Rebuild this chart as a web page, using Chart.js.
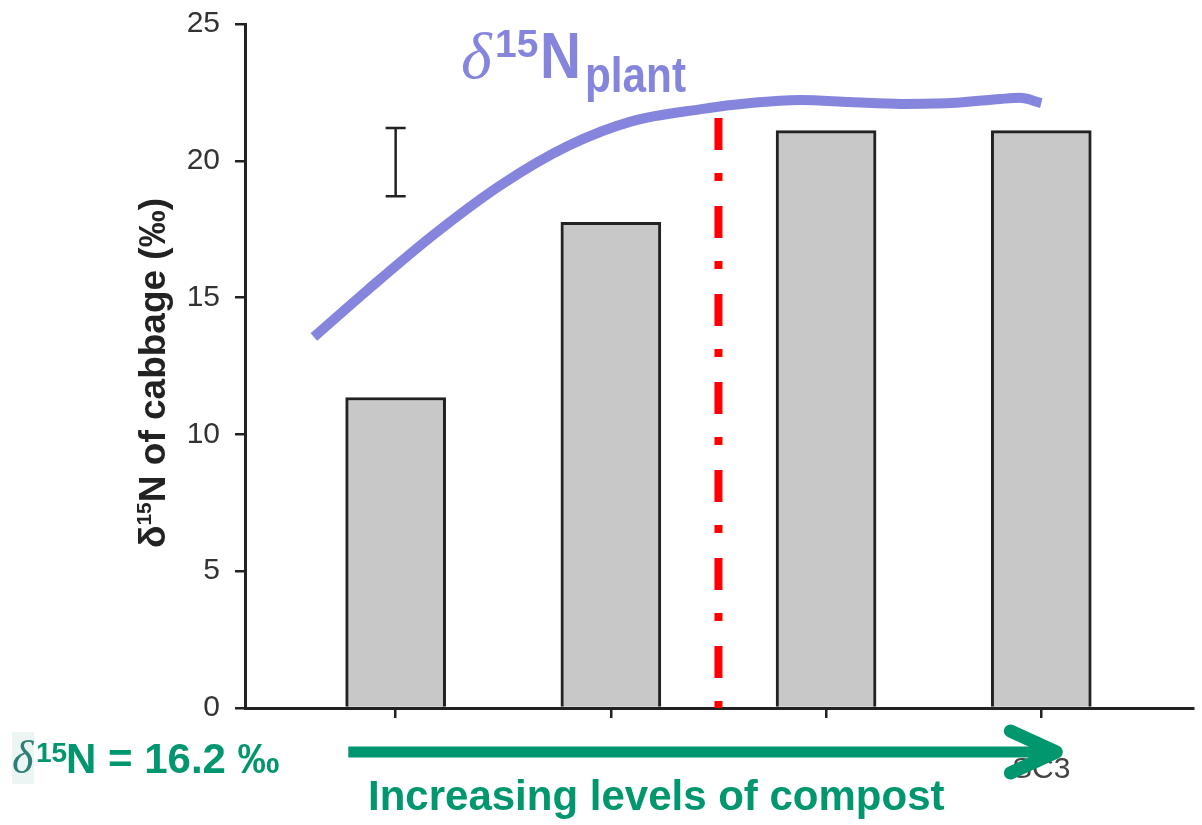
<!DOCTYPE html>
<html>
<head>
<meta charset="utf-8">
<title>δ15N of cabbage under increasing compost levels</title>
<script src="https://cdn.jsdelivr.net/npm/chart.js@4.4.1/dist/chart.umd.min.js"></script>
<style>
  html, body { margin: 0; padding: 0; background: #ffffff; }
  #wrap { width: 1202px; height: 825px; position: relative; }
  canvas { display: block; }
</style>
</head>
<body>
<div id="wrap"><canvas id="chart" width="1202" height="825"></canvas></div>
<script>
// Treatment positions on the x axis and their tick labels
const treatmentPos = [0, 1, 2, 3];
const xTickLabels = ['', '', '', 'SC3'];

// δ15N of cabbage (‰) for each compost level
const cabbageD15N = [11.35, 17.75, 21.1, 21.1];

// Y axis ticks
const yTicks = [0, 5, 10, 15, 20, 25];

// Least significant difference bar (drawn above the first treatment)
const lsdX = [0];
const lsdLow = [18.7];
const lsdHigh = [21.2];

// Sketched δ15N(plant) trend curve
const plantCurveX = [-0.38, -0.13, 0.18, 0.49, 0.8, 1.1, 1.42, 1.65, 1.88, 2.11, 2.35, 2.58, 2.81, 2.9, 3.0];
const plantCurveY = [13.56, 15.28, 17.32, 19.12, 20.54, 21.45, 21.89, 22.11, 22.22, 22.15, 22.08, 22.11, 22.26, 22.3, 22.11];

// Threshold marker between the second and third compost level
const thresholdX = [1.5, 1.5];
const thresholdY = [21.56, 0];

const GREEN = '#00966E';
const PURPLE = '#8585DD';
const AXIS = '#222222';

const xy = (xs, ys) => xs.map((x, i) => ({ x: x, y: ys[i] }));

// Error bar, y-axis title and annotation texts drawn on top of the chart
const decorations = {
  id: 'decorations',
  afterDatasetsDraw(chart) {
    const { ctx, scales: { x, y } } = chart;
    ctx.save();
    // LSD bar
    ctx.strokeStyle = AXIS;
    ctx.lineWidth = 2.5;
    lsdX.forEach((v, i) => {
      const px = x.getPixelForValue(v);
      const t = y.getPixelForValue(lsdHigh[i]);
      const b = y.getPixelForValue(lsdLow[i]);
      ctx.beginPath();
      ctx.moveTo(px, t); ctx.lineTo(px, b);
      ctx.moveTo(px - 10, t); ctx.lineTo(px + 10, t);
      ctx.moveTo(px - 10, b); ctx.lineTo(px + 10, b);
      ctx.stroke();
    });
    ctx.restore();
  },
  afterDraw(chart) {
    const { ctx, chartArea } = chart;
    ctx.save();

    // Y axis title, rotated, with superscript mass number
    ctx.translate(165, (chartArea.top + chartArea.bottom) / 2 + 7);
    ctx.rotate(-Math.PI / 2);
    ctx.fillStyle = AXIS;
    ctx.textBaseline = 'alphabetic';
    const mainFont = 'bold 37px "Liberation Sans", Arial, sans-serif';
    const supFont = 'bold 21px "Liberation Sans", Arial, sans-serif';
    ctx.font = mainFont;
    const wD = ctx.measureText('δ').width;
    const wRest = ctx.measureText('N of cabbage (‰)').width;
    ctx.font = supFont;
    const wSup = ctx.measureText('15').width;
    let cx = -(wD + wSup + wRest) / 2;
    ctx.font = mainFont;
    ctx.fillText('δ', cx, 0); cx += wD;
    ctx.font = supFont;
    ctx.fillText('15', cx, -14); cx += wSup;
    ctx.font = mainFont;
    ctx.fillText('N of cabbage (‰)', cx, 0);
    ctx.restore();

    ctx.save();
    // δ15N(plant) label next to the curve
    ctx.fillStyle = PURPLE;
    ctx.textBaseline = 'alphabetic';
    ctx.font = 'italic 66px "Liberation Serif", "Times New Roman", serif';
    ctx.fillText('δ', 461, 78);
    ctx.font = 'bold 39px "Liberation Sans", Arial, sans-serif';
    ctx.fillText('15', 495, 57);
    ctx.font = 'bold 64px "Liberation Sans", Arial, sans-serif';
    ctx.fillText('N', 540, 78, 41);
    ctx.font = 'bold 50px "Liberation Sans", Arial, sans-serif';
    ctx.fillText('plant', 585, 92, 101);

    // Compost δ15N value
    ctx.fillStyle = '#eaf5f4';
    ctx.fillRect(12, 732, 22, 52);
    ctx.fillStyle = '#2f7f78';
    ctx.font = 'italic 46px "Liberation Serif", "Times New Roman", serif';
    ctx.fillText('δ', 12, 773);
    ctx.fillStyle = GREEN;
    ctx.font = 'bold 28px "Liberation Sans", Arial, sans-serif';
    ctx.fillText('15', 36, 762);
    ctx.font = 'bold 42px "Liberation Sans", Arial, sans-serif';
    ctx.fillText('N = 16.2 ‰', 66, 773, 216);

    // Arrow along the treatments
    const ay = chartArea.bottom + 44;
    const ax0 = chart.scales.x.getPixelForValue(-0.22);
    const ax1 = chart.scales.x.getPixelForValue(3.07);
    ctx.strokeStyle = GREEN;
    ctx.lineWidth = 11;
    ctx.lineCap = 'butt';
    ctx.beginPath();
    ctx.moveTo(ax0, ay); ctx.lineTo(ax1 - 4, ay);
    ctx.stroke();
    ctx.lineWidth = 13;
    ctx.lineCap = 'round';
    ctx.lineJoin = 'round';
    ctx.beginPath();
    ctx.moveTo(ax1 - 46, ay - 21);
    ctx.lineTo(ax1, ay);
    ctx.lineTo(ax1 - 46, ay + 21);
    ctx.stroke();

    ctx.font = 'bold 42px "Liberation Sans", Arial, sans-serif';
    ctx.fillText('Increasing levels of compost', 368, 810, 584);
    ctx.restore();
  }
};

new Chart(document.getElementById('chart'), {
  type: 'bar',
  data: {
    datasets: [
      {
        type: 'line',
        label: 'δ15N plant',
        data: xy(plantCurveX, plantCurveY),
        borderColor: PURPLE,
        borderWidth: 10,
        pointRadius: 0,
        cubicInterpolationMode: 'monotone',
        borderCapStyle: 'butt',
        fill: false,
        order: 0
      },
      {
        type: 'line',
        label: 'threshold',
        data: xy(thresholdX, thresholdY),
        borderColor: '#ff0000',
        borderWidth: 8,
        borderDash: [32, 23, 8, 25],
        borderCapStyle: 'butt',
        pointRadius: 0,
        tension: 0,
        fill: false,
        order: 1
      },
      {
        type: 'bar',
        label: 'δ15N of cabbage',
        data: xy(treatmentPos, cabbageD15N),
        backgroundColor: '#c8c8c8',
        borderColor: AXIS,
        borderWidth: 3,
        barThickness: 100,
        order: 2
      }
    ]
  },
  options: {
    responsive: false,
    animation: false,
    devicePixelRatio: 1,
    layout: { padding: { left: 0, right: 9, top: 24, bottom: 0 } },
    plugins: {
      legend: { display: false },
      tooltip: { enabled: false }
    },
    scales: {
      x: {
        type: 'linear',
        offset: false,
        min: -0.7,
        max: 3.705,
        afterBuildTicks(scale) { scale.ticks = treatmentPos.map(v => ({ value: v })); },
        afterFit(scale) { scale.height = 117; scale.paddingLeft = 0; scale.paddingRight = 0; },
        border: { display: true, color: AXIS, width: 3 },
        grid: { offset: false, drawOnChartArea: false, drawTicks: true, tickLength: 10, color: AXIS, lineWidth: 2.5 },
        ticks: {
          padding: 34,
          color: '#444',
          font: { family: '"Liberation Sans", Arial, sans-serif', size: 30 },
          callback: (v) => xTickLabels[treatmentPos.indexOf(v)] ?? ''
        }
      },
      y: {
        type: 'linear',
        min: 0,
        max: 25,
        afterBuildTicks(scale) { scale.ticks = yTicks.map(v => ({ value: v })); },
        afterFit(scale) { scale.width = 245; scale.paddingTop = 0; scale.paddingBottom = 0; },
        border: { display: true, color: AXIS, width: 3 },
        grid: { drawOnChartArea: false, drawTicks: true, tickLength: 10, color: AXIS, lineWidth: 2.5 },
        ticks: {
          padding: 15,
          color: '#333',
          font: { family: '"Liberation Sans", Arial, sans-serif', size: 30 }
        }
      }
    }
  },
  plugins: [decorations]
});
</script>
</body>
</html>
